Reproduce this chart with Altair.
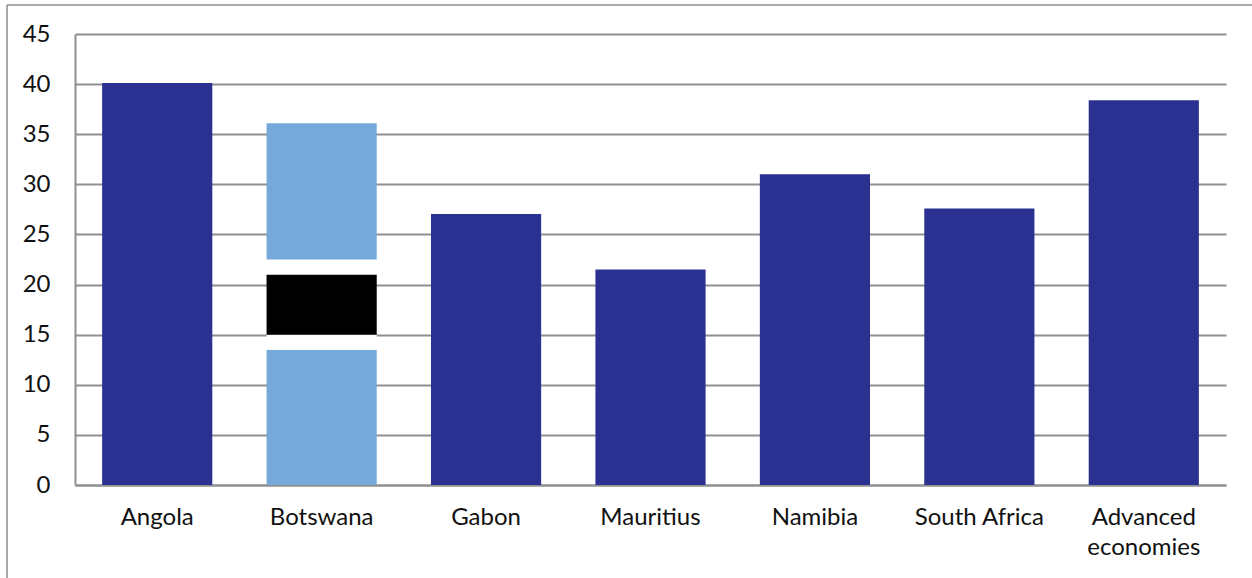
import altair as alt
import pandas as pd

categories = ["Angola", "Botswana", "Gabon", "Mauritius", "Namibia", "South Africa", "Advanced economies"]
values = [40.1, 36.1, 27.05, 21.5, 31.0, 27.6, 38.4]
y_ticks = [0, 5, 10, 15, 20, 25, 30, 35, 40, 45]

# Botswana's bar is painted in its flag's bands, bottom to top
flag_edges = [0, 13.5, 15, 21, 22.5, 36.1]
flag_colors = ["#75a9da", "#ffffff", "#000000", "#ffffff", "#75a9da"]
bar_color = "#2b3190"

FONT = "Lato"
GRID = "#8f8f8f"

rows = []
for name, value in zip(categories, values):
    if name == "Botswana":
        for low, high, color in zip(flag_edges[:-1], flag_edges[1:], flag_colors):
            rows.append({"category": name, "low": low, "high": high, "color": color})
    else:
        rows.append({"category": name, "low": 0, "high": value, "color": bar_color})
bars_data = pd.DataFrame(rows)

x_enc = alt.X(
    "category:N",
    sort=categories,
    title=None,
    scale=alt.Scale(paddingInner=0.33, paddingOuter=0.165),
    axis=alt.Axis(
        labelAngle=0,
        labelFont=FONT,
        labelFontSize=24,
        labelColor="#111111",
        labelPadding=20,
        labelLimit=300,
        labelLineHeight=30,
        ticks=False,
        domainColor=GRID,
        domainWidth=2,
        labelExpr="datum.label == 'Advanced economies' ? ['Advanced', 'economies'] : datum.label",
    ),
)

bars = (
    alt.Chart(bars_data)
    .mark_bar()
    .encode(
        x=x_enc,
        y=alt.Y(
            "low:Q",
            title=None,
            scale=alt.Scale(domain=[0, 45], nice=False),
            axis=alt.Axis(
                values=y_ticks,
                format="d",
                labelFont=FONT,
                labelFontSize=24,
                labelColor="#111111",
                labelPadding=25,
                ticks=False,
                grid=True,
                gridColor=GRID,
                gridWidth=2,
                domainColor=GRID,
                domainWidth=2,
            ),
        ),
        y2="high:Q",
        color=alt.Color("color:N", scale=None),
    )
)

# Thin outer frame along the top and left edges of the page
frame_top = alt.Chart(pd.DataFrame({"k": [0]})).mark_rule(color="#8c8c8c", strokeWidth=1.5, clip=False).encode(
    x=alt.value(-68), x2=alt.value(1177), y=alt.value(-29)
)
frame_left = alt.Chart(pd.DataFrame({"k": [0]})).mark_rule(color="#8c8c8c", strokeWidth=1.5, clip=False).encode(
    x=alt.value(-68), y=alt.value(-29), y2=alt.value(544)
)

chart = (
    alt.layer(bars, frame_top, frame_left)
    .properties(
        width=1151,
        height=451,
        autosize=alt.AutoSizeParams(type="none"),
        padding={"left": 75, "top": 34, "right": 26, "bottom": 93},
        background="#ffffff",
    )
    .configure_view(stroke=None)
)

chart.save("out.html", embed_options={"renderer": "svg", "actions": False})
